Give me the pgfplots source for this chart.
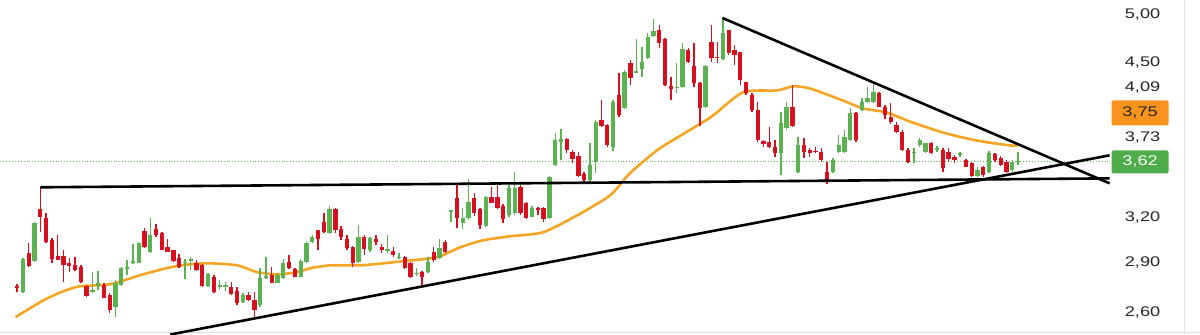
\documentclass[border=0pt]{standalone}
\usepackage{pgfplots}
\pgfplotsset{compat=1.18}
\usepackage{pgfplotstable}
\usepackage{fontspec}
\setmainfont{Liberation Sans}
\newfontfamily\lbl[FakeStretch=1.3]{Liberation Sans}
\definecolor{cgreen}{RGB}{90,178,80}
\definecolor{cred}{RGB}{214,16,30}
\definecolor{cma}{RGB}{245,165,35}
\definecolor{cboxo}{RGB}{248,148,30}
\definecolor{cboxg}{RGB}{78,172,74}

\pgfplotstableread{
i o h l c
2 2.717 2.927 2.711 2.921
4 2.908 3.168 2.901 3.161
14 2.717 2.839 2.711 2.725
15 2.753 2.845 2.729 2.771
18 2.628 2.789 2.572 2.771
19 2.759 2.870 2.753 2.864
20 2.857 2.914 2.820 2.870
21 2.895 3.019 2.889 2.908
22 2.895 3.032 2.895 3.025
24 2.966 3.196 2.960 3.079
30 2.895 2.921 2.795 2.901
31 2.908 2.934 2.851 2.921
34 2.753 2.832 2.747 2.826
36 2.747 2.789 2.729 2.759
37 2.747 2.777 2.723 2.759
40 2.657 2.711 2.652 2.699
43 2.640 2.864 2.628 2.801
44 2.801 2.934 2.795 2.814
46 2.771 2.832 2.771 2.820
47 2.801 2.921 2.795 2.895
50 2.808 2.921 2.808 2.908
51 2.901 3.039 2.895 3.025
52 3.032 3.079 3.025 3.065
55 3.093 3.281 3.086 3.259
60 2.901 3.147 2.895 3.065
62 2.979 3.065 2.966 3.059
65 2.973 3.079 2.960 2.986
67 2.927 2.960 2.921 2.934
70 2.826 2.864 2.814 2.832
72 2.839 2.934 2.832 2.901
74 2.927 3.052 2.921 2.992
76 3.238 3.252 3.168 3.252
78 3.161 3.267 3.120 3.196
79 3.196 3.482 3.182 3.310
82 3.140 3.354 3.133 3.346
86 3.217 3.436 3.203 3.413
87 3.231 3.536 3.217 3.413
90 3.203 3.281 3.203 3.267
93 3.196 3.505 3.189 3.497
94 3.590 3.851 3.582 3.792
95 3.776 3.885 3.629 3.800
100 3.474 3.767 3.459 3.590
101 3.614 3.962 3.528 3.945
104 3.735 4.140 3.702 4.122
106 4.068 4.422 4.059 4.403
108 4.393 4.733 4.393 4.412
109 4.432 4.651 4.355 4.500
110 4.540 4.796 4.530 4.754
111 4.765 4.946 4.754 4.817
115 4.251 4.491 4.205 4.260
116 4.260 4.692 4.251 4.630
120 4.077 4.471 4.068 4.461
123 4.530 4.956 4.520 4.796
133 3.686 4.032 3.513 3.936
134 3.893 4.122 3.876 4.077
136 3.536 3.817 3.528 3.751
142 3.536 3.645 3.528 3.629
143 3.694 3.834 3.686 3.751
144 3.694 3.876 3.686 3.817
145 3.792 4.068 3.784 4.023
147 4.050 4.158 4.041 4.122
148 4.122 4.260 4.113 4.158
149 4.122 4.307 4.113 4.214
156 3.686 3.727 3.606 3.694
157 3.751 3.809 3.735 3.792
158 3.694 3.767 3.686 3.767
160 3.710 3.743 3.694 3.727
164 3.669 3.694 3.653 3.686
167 3.505 3.575 3.497 3.551
169 3.536 3.702 3.528 3.686
173 3.551 3.629 3.536 3.614
174 3.614 3.694 3.590 3.620
}\upt

\pgfplotstableread{
i o h l c
1 2.753 2.765 2.717 2.741
3 2.960 3.025 2.870 2.876
5 3.259 3.421 3.099 3.203
6 3.196 3.231 3.025 3.032
7 3.045 3.059 2.895 2.921
8 2.940 3.079 2.914 2.914
9 2.940 2.979 2.777 2.882
10 2.895 2.927 2.839 2.876
11 2.882 2.934 2.845 2.851
12 2.870 2.882 2.771 2.777
13 2.753 2.759 2.687 2.693
16 2.759 2.771 2.681 2.681
17 2.699 2.711 2.594 2.611
23 3.106 3.126 2.992 2.999
25 3.120 3.154 3.065 3.079
26 3.093 3.099 2.979 2.979
27 2.999 3.052 2.966 2.966
28 2.979 2.979 2.901 2.908
29 2.927 2.953 2.864 2.870
32 2.895 2.914 2.845 2.851
33 2.882 2.889 2.747 2.753
35 2.808 2.820 2.711 2.717
38 2.747 2.777 2.699 2.705
39 2.723 2.747 2.640 2.652
41 2.699 2.717 2.663 2.669
42 2.669 2.717 2.566 2.611
45 2.820 2.870 2.771 2.771
48 2.901 2.947 2.857 2.864
49 2.857 2.864 2.808 2.808
53 3.113 3.113 2.979 3.052
54 3.168 3.231 3.093 3.099
56 3.259 3.267 3.093 3.113
57 3.120 3.140 3.045 3.065
58 3.052 3.079 2.979 2.992
59 2.999 3.006 2.870 2.895
61 3.065 3.079 2.947 2.986
63 3.052 3.079 3.012 3.032
64 2.999 3.019 2.960 2.979
66 2.973 2.999 2.934 2.947
68 2.934 2.940 2.857 2.864
69 2.895 2.901 2.801 2.808
71 2.839 2.845 2.759 2.808
73 2.966 2.999 2.901 2.914
75 3.032 3.045 2.960 2.966
77 3.339 3.436 3.126 3.196
80 3.339 3.376 3.210 3.231
81 3.259 3.267 3.120 3.147
83 3.346 3.421 3.303 3.303
84 3.346 3.451 3.259 3.267
85 3.281 3.295 3.161 3.189
88 3.421 3.436 3.217 3.231
89 3.303 3.310 3.189 3.196
91 3.267 3.274 3.217 3.252
92 3.267 3.274 3.168 3.189
96 3.800 3.809 3.686 3.710
97 3.694 3.710 3.606 3.637
98 3.661 3.694 3.497 3.505
99 3.520 3.536 3.459 3.474
102 3.962 4.140 3.902 3.910
103 3.919 3.936 3.735 3.751
105 4.186 4.393 3.988 4.006
107 4.491 4.520 4.279 4.345
112 4.828 4.881 4.641 4.692
113 4.733 4.744 4.270 4.279
114 4.270 4.355 4.140 4.242
117 4.620 4.641 4.491 4.500
118 4.461 4.692 4.260 4.298
119 4.298 4.307 3.919 4.068
121 4.703 4.881 4.500 4.540
122 4.550 4.703 4.491 4.540
124 4.828 4.828 4.570 4.590
125 4.620 4.671 4.471 4.570
126 4.600 4.600 4.279 4.326
127 4.307 4.307 4.186 4.205
128 4.186 4.205 4.032 4.050
129 4.050 4.122 3.776 3.792
130 3.784 3.792 3.735 3.759
131 3.776 3.902 3.727 3.735
132 3.735 3.792 3.653 3.686
135 4.077 4.279 3.902 3.919
137 3.751 3.809 3.645 3.694
138 3.710 3.727 3.653 3.686
139 3.702 3.735 3.686 3.694
140 3.694 3.727 3.614 3.629
141 3.536 3.614 3.444 3.474
146 4.023 4.032 3.776 3.792
150 4.205 4.214 4.077 4.077
151 4.077 4.095 3.979 4.006
152 3.988 4.113 3.936 3.945
153 3.919 3.945 3.851 3.859
154 3.859 3.876 3.702 3.710
155 3.710 3.727 3.606 3.614
159 3.767 3.776 3.678 3.686
161 3.710 3.727 3.536 3.567
162 3.694 3.727 3.614 3.637
163 3.653 3.669 3.606 3.629
165 3.629 3.637 3.575 3.575
166 3.606 3.614 3.497 3.505
168 3.575 3.583 3.497 3.513
170 3.678 3.686 3.614 3.629
171 3.645 3.661 3.583 3.590
172 3.614 3.629 3.528 3.536
}\downt

\begin{document}
\begin{tikzpicture}
\begin{axis}[
  scale only axis, width=1200pt, height=334pt,
  xmin=-1.884, xmax=205.37,
  ymode=log, ymin=2.4775, ymax=5.156,
  axis line style={draw=none},
  major tick length=0pt, minor tick length=0pt,
  xtick=\empty,
  ytick={2.6,2.9,3.2,4.5,5}, minor ytick={},
  yticklabels={{2,60},{2,90},{3,20},{4,50},{5,00}},
  yticklabel pos=right,
  yticklabel style={font=\lbl\fontsize{14}{16}\selectfont, anchor=center, xshift=-57pt, text=black!85},
  clip mode=individual,
]
% light frame lines
\draw[black!12, line width=1pt] (rel axis cs:0.9875,0) -- (rel axis cs:0.9875,1);
\draw[black!12, line width=1pt] (rel axis cs:0,0.006) -- (rel axis cs:1,0.006);

% current price dotted line
\addplot[cgreen, dotted, line width=0.9pt] coordinates {(-1.884,3.62) (189.8,3.62)};

% moving average
\addplot[cma, line width=2.6pt, smooth, tension=0.4] coordinates {
(0.7,2.572) (5.54,2.669) (9.0,2.723) (11.9,2.753) (17.1,2.765) (22.8,2.826) (27.5,2.870) (30.9,2.889) (34.4,2.895) (39.1,2.882) (42.5,2.839) (46.0,2.826) (49.4,2.839) (51.7,2.864) (55.1,2.882) (60.3,2.882) (64.3,2.895) (68.3,2.911) (73.6,2.934) (77.6,2.999) (81.5,3.045) (86.2,3.072) (91.9,3.099) (97.8,3.217) (103.5,3.361) (106.9,3.528) (112.1,3.727) (120.8,3.988) (126.4,4.214) (132.3,4.232) (135.1,4.270) (138.0,4.251) (143.7,4.140) (147.2,4.068) (151.3,4.032) (155.3,3.953) (161.0,3.859) (166.8,3.792) (172.5,3.751) (173.9,3.751)};

% candle wicks and bodies
\addplot[draw=none, mark=none, forget plot, error bars/.cd, y dir=plus, y explicit, error mark=none, error bar style={line width=1.4pt, cgreen}]
  table[x=i, y=l, y error plus expr=\thisrow{h}-\thisrow{l}] {\upt};
\addplot[draw=none, mark=none, forget plot, error bars/.cd, y dir=plus, y explicit, error mark=none, error bar style={line width=4.3pt, cgreen}]
  table[x=i, y=o, y error plus expr=\thisrow{c}-\thisrow{o}+0.004] {\upt};
\addplot[draw=none, mark=none, forget plot, error bars/.cd, y dir=plus, y explicit, error mark=none, error bar style={line width=1.4pt, cred}]
  table[x=i, y=l, y error plus expr=\thisrow{h}-\thisrow{l}] {\downt};
\addplot[draw=none, mark=none, forget plot, error bars/.cd, y dir=plus, y explicit, error mark=none, error bar style={line width=4.3pt, cred}]
  table[x=i, y=c, y error plus expr=\thisrow{o}-\thisrow{c}+0.004] {\downt};

% trend lines
\addplot[black, line width=2.6pt] coordinates {(5.02,3.421) (189.83,3.489)};
\addplot[black, line width=2.6pt] coordinates {(27.48,2.476) (189.83,3.670)};
\addplot[black, line width=2.6pt] coordinates {(122.9,4.962) (189.83,3.451)};

% price labels
\node[font=\lbl\fontsize{14}{16}\selectfont, text=black!85] at (rel axis cs:0.95250,0.73952) {4,09};
\node[font=\lbl\fontsize{14}{16}\selectfont, text=black!85] at (rel axis cs:0.95250,0.58982) {3,73};
\node[font=\lbl\fontsize{14}{16}\selectfont, text=black!85, fill=cboxo, rounded corners=2pt, minimum width=57pt, minimum height=25pt, inner sep=0pt] at (rel axis cs:0.95042,0.66317) {3,75};
\node[font=\lbl\fontsize{14}{16}\selectfont, text=white, fill=cboxg, rounded corners=2pt, minimum width=57pt, minimum height=23pt, inner sep=0pt] at (rel axis cs:0.95042,0.51647) {3,62};
\end{axis}
\end{tikzpicture}
\end{document}
